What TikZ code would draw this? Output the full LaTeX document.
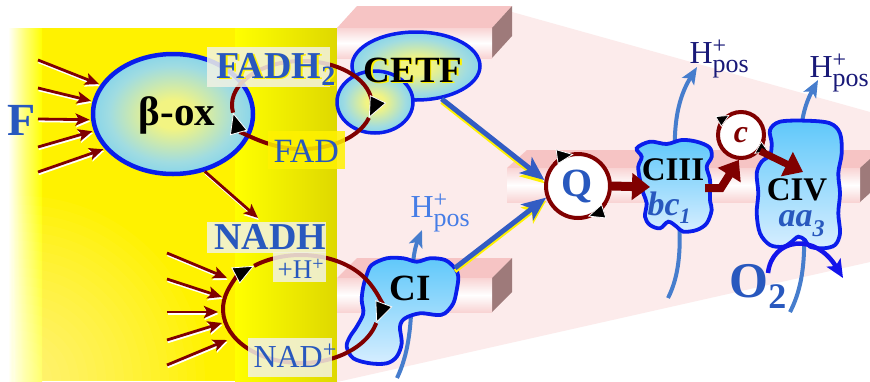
\documentclass[tikz,border=0pt]{standalone}
\usepackage{fontspec}
\setmainfont{Liberation Serif}
\usetikzlibrary{shapes.geometric,arrows.meta,calc}
\newcommand\fs[1]{\fontsize{#1}{#1}\selectfont}
\newcommand\Hpos{H\rlap{\raisebox{10pt}{\fs{24}+}}\raisebox{-9pt}{\fs{26}pos}}
\definecolor{txtblue}{RGB}{40,88,190}
\definecolor{dred}{RGB}{128,0,0}
\definecolor{eblue}{RGB}{10,30,235}
\definecolor{lblue}{RGB}{95,200,250}
\definecolor{pblue}{RGB}{215,238,255}
\definecolor{sblue}{RGB}{70,125,205}
\definecolor{navy}{RGB}{25,25,120}
\definecolor{hblue}{RGB}{70,125,230}
\definecolor{ydark}{RGB}{222,216,0}
\definecolor{pinkbg}{RGB}{252,235,235}
\definecolor{slabpink}{RGB}{246,196,196}
\definecolor{slabside}{RGB}{158,122,122}
\definecolor{slaborange}{RGB}{240,125,50}
\definecolor{boxwhite}{RGB}{242,242,228}
\definecolor{pureblue}{RGB}{20,20,235}
\definecolor{arrblue}{RGB}{50,92,195}
\definecolor{ovin}{RGB}{242,244,130}
\definecolor{ovmid}{RGB}{160,220,225}
\pgfdeclareradialshading{ovalshade}{\pgfpoint{0bp}{0bp}}{color(0bp)=(ovin); color(6bp)=(ovin); color(20bp)=(ovmid); color(34bp)=(lblue); color(50bp)=(lblue)}
\pgfdeclareverticalshading{slabfront}{100bp}{color(0bp)=(slaborange); color(6bp)=(slaborange); color(16bp)=(slabpink); color(50bp)=(white); color(84bp)=(slabpink); color(94bp)=(slaborange); color(100bp)=(slaborange)}
\newcommand\mslab[6]{%
  \fill[slabpink] (#1,#2) -- ++(#5,-#6) -- (#3+#5,#2-#6) -- (#3,#2) -- cycle;
  \fill[slabside] (#3,#2) -- (#3+#5,#2-#6) -- (#3+#5,#4-#6) -- (#3,#4) -- cycle;
  \shade[shading=slabfront] (#1,#2) rectangle (#3,#4);}
\begin{document}
\begin{tikzpicture}[x=1pt,y=-1pt,
  inarr/.style={draw=dred, line width=2.8, -{Stealth[length=14pt,width=12pt,inset=3pt]},
    preaction={draw=white, line width=2.6, transform canvas={shift={(0.6pt,-1.9pt)}}}},
  oval/.style={ellipse, draw=eblue, line width=4.5, shade, shading=ovalshade, inner sep=0},
  blob/.style={draw=eblue, line width=3.8, top color=lblue, bottom color=pblue},
  cyc/.style={draw=dred, line width=4},
  cyctip/.style={-{Triangle[length=21pt,width=18pt,fill=black,color=white,line width=0.8pt]}},
  stip/.style={-{Triangle[length=17pt,width=15pt,fill=black,color=white,line width=0.8pt]}},
  qarr/.style={draw=arrblue, line width=5, -{Stealth[length=24pt,width=20pt,inset=6pt]},
    preaction={draw=yellow, line width=4, transform canvas={shift={(0pt,-3.2pt)}}}},
  fat/.style={draw=dred, line width=9, -{Triangle[length=18pt,width=26pt]}},
  parr/.style={draw=sblue, line width=4, -{Stealth[length=17pt,width=14pt,inset=4pt]}},
  lbox/.style={fill=boxwhite, fill opacity=0.85, inner sep=0},
]
\useasboundingbox (0,0) rectangle (870,381);
% backgrounds
\fill[white] (0,0) rectangle (870,381);
\fill[yellow] (30,28) rectangle (337,381);
\shade[left color=white, right color=yellow, middle color=white!45!yellow] (8,28) rectangle (42,381);
\shade[left color=yellow, right color=ydark] (235,28) rectangle (337,381);
\begin{scope}
  \clip (8,28) rectangle (337,381);
  \foreach \r in {185,176,...,20}{\fill[white, opacity=0.03] (20,381) circle[radius=\r];}
\end{scope}
\fill[pinkbg] (337,28) -- (512,12) -- (870,112) -- (870,262) -- (337,382) -- cycle;
% membrane slabs
\mslab{337}{28}{492}{58}{20}{22}
\mslab{337}{278}{492}{312}{20}{20}
\mslab{507}{168}{860}{202}{20}{18}
% proton arrows
\coordinate (p1s) at (397,378); \coordinate (p1e) at (422,230);
\coordinate (p2s) at (668,298); \coordinate (p2e) at (697,67);
\coordinate (p3s) at (790,312); \coordinate (p3e) at (818,80);
\draw[parr] (p1s) .. controls (420,330) and (406,270) .. (p1e);
\draw[parr] (p2s) .. controls (700,235) and (652,140) .. (p2e);
\draw[parr] (p3s) .. controls (825,245) and (780,150) .. (p3e);
% beta-ox
\node[oval, minimum width=160, minimum height=120] (betaox) at (173,114) {};
\foreach \i/\y/\a in {1/60/158, 2/88/171, 3/119/184, 4/147/192, 5/172/207}{
  \coordinate (bs\i) at (38,\y);
  \draw[inarr, shorten >=1.5pt] (bs\i) -- (betaox.\a);
}
\node[anchor=base, font=\fs{46}\bfseries, text=txtblue] (F) at (22,135) {F};
\node[anchor=base, font=\fs{41}\bfseries] (betatxt) at (177,125) {β-ox};
% CETF
\node[oval, line width=3.5, minimum width=128, minimum height=68] (cetf) at (416,66) {};
\node[oval, line width=3.5, minimum width=76, minimum height=62] (cetf2) at (375,102) {};
% FAD cycle
\coordinate (fadc) at (302,105);
\draw[cyc, cyctip] ($(fadc)+(17:70 and 44)$) arc[start angle=17, end angle=170, x radius=70, y radius=44];
\draw[cyc, cyctip] ($(fadc)+(170:70 and 44)$) arc[start angle=170, end angle=377, x radius=70, y radius=44];
\node[lbox, fill=boxwhite, minimum width=123, minimum height=40] (fadh2box) at (268.5,67) {};
\node[lbox, fill=yellow, minimum width=77, minimum height=38] (fadbox) at (306.5,150) {};
\node[anchor=base west, font=\fs{38}\bfseries, text=yellow] at (214.5,79.5) {FADH\raisebox{-7pt}{\fs{28}2}};
\node[anchor=base west, font=\fs{38}\bfseries, text=txtblue] (fadh2) at (213,78) {FADH\raisebox{-7pt}{\fs{28}2}};
\node[anchor=base west, font=\fs{34}, text=txtblue] (fad) at (270,162) {FAD};
\node[anchor=base, font=\fs{37}\bfseries, text=yellow] at (414.5,83.5) {CETF};
\node[anchor=base, font=\fs{37}\bfseries] (cetft) at (413,82) {CETF};
% beta-ox to NADH
\coordinate (nadhin) at (258,218);
\draw[inarr] (betaox.-61) -- (nadhin);
% CI blob
\draw[blob] plot[smooth cycle, tension=0.55] coordinates {(371.7,265) (386.7,258.3) (403.3,258.3) (416.7,261.7) (430,258.3) (445,260) (455,268.3) (458.3,276.7) (456.7,290) (453.3,303.3) (445,313.3) (436.7,315) (420,313.3) (405,318.3) (400,326.7) (401.7,343.3) (396.7,356.7) (386.7,363.3) (370,363.3) (353.3,358.3) (346.7,346.7) (350,336.7) (356.7,326.7) (363.3,313.3) (361.7,300) (363.3,286.7) (366.7,275)};
\coordinate (ciout) at (455,268);
% NAD cycle
\coordinate (nadc) at (301,309);
\draw[cyc, cyctip] ($(nadc)+(15:78 and 54)$) arc[start angle=15, end angle=233, x radius=78, y radius=54];
\draw[cyc, cyctip] ($(nadc)+(233:78 and 54)$) arc[start angle=233, end angle=375, x radius=78, y radius=54];
\foreach \i/\ys/\xe/\ye in {1/253/227/278, 2/279/222/297, 3/312/218/312, 4/340/222/323, 5/365/227/340}{
  \coordinate (ns\i) at (167,\ys); \coordinate (ne\i) at (\xe,\ye);
  \draw[inarr] (ns\i) -- (ne\i);
}
\node[lbox, minimum width=119, minimum height=31] (nadhbox) at (266.5,237) {};
\node[lbox, minimum width=53, minimum height=30] (hbox) at (299.5,267) {};
\node[lbox, minimum width=84, minimum height=39] (nadbox) at (290,357.5) {};
\node[anchor=base west, font=\fs{38}\bfseries, text=txtblue] (nadh) at (211,249) {NADH};
\node[anchor=base west, font=\fs{27}, text=txtblue] (hplus) at (274,278) {+H\raisebox{8pt}{\fs{20}+}};
\node[anchor=base west, font=\fs{32}, text=txtblue] (nad) at (250,367) {NAD\raisebox{10pt}{\fs{24}+}};
\node[anchor=base, font=\fs{37}\bfseries] (citxt) at (410,300) {CI};
% Q
\node[circle, draw=dred, line width=4, fill=white, minimum size=64] (Q) at (578,186) {};
\draw[qarr] (cetf.-52) -- (Q.170);
\draw[qarr] (ciout) -- (Q.200);
\draw[cyc, stip] ($(Q)+(222:32)$) arc[start angle=222, end angle=262, radius=32];
\draw[cyc, stip] ($(Q)+(32:32)$) arc[start angle=32, end angle=72, radius=32];
\node[anchor=base, font=\fs{40}\bfseries, text=txtblue] (qtxt) at (577,196) {Q};
% CIII and CIV
\draw[blob] plot[smooth cycle, tension=0.55] coordinates {(636.7,148.3) (650,141.7) (666.7,144) (681.7,140) (696.7,141.7) (709.3,147.3) (711.7,156.7) (706.7,166.7) (710,180) (710,200) (711.7,210) (706.7,223.3) (696.7,230) (683.3,231.7) (676.7,226.7) (668.3,221.7) (660,228.3) (650,225) (645,216.7) (646.7,203.3) (643.3,193.3) (640,180) (638.3,166.7) (641.7,156.7)};
\draw[blob] plot[smooth cycle, tension=0.55] coordinates {(770,130) (780,121.7) (806.7,120.7) (830,123.3) (840,133.3) (841.7,153.3) (838.3,173.3) (840,193.3) (838.3,213.3) (840,233.3) (835,245) (823.3,248.3) (810,246.7) (805,240) (798.3,236.7) (791.7,241.7) (783.3,246.7) (770,245) (760,233.3) (756.7,213.3) (758.3,193.3) (756.7,173.3) (761.7,161.7) (770,155) (771.7,143.3)};
\node[circle, draw=dred, line width=4, fill=white, minimum size=46] (c) at (741,135) {};
\draw[cyc, -{Triangle[length=13pt,width=12pt,fill=black,color=white,line width=0.7pt]}] ($(c)+(195:23)$) arc[start angle=195, end angle=240, radius=23];
\draw[cyc, -{Triangle[length=13pt,width=12pt,fill=black,color=white,line width=0.7pt]}] ($(c)+(10:23)$) arc[start angle=10, end angle=55, radius=23];
\coordinate (ciiiin) at (650,187);
\coordinate (ciiiout) at (705,188);
\coordinate (civin) at (803,172);
\draw[fat] (Q.east) -- (ciiiin);
\draw[fat, line width=8] (ciiiout) -- ++(16,0) -- (c.265);
\draw[fat, line width=7] (c.-40) -- (civin);
\node[anchor=base, font=\fs{33}\bfseries] (ciiitxt) at (673,180) {CIII};
\node[anchor=base west, font=\fs{34}\bfseries\itshape, text=txtblue] (bc1) at (644,215) {bc\raisebox{-8pt}{\fs{22}1}};
\node[anchor=base, font=\fs{33}\bfseries] (civtxt) at (797,200) {CIV};
\node[anchor=base west, font=\fs{34}\bfseries\itshape, text=txtblue] (aa3) at (775,226) {aa\raisebox{-10pt}{\fs{24}3}};
\node[anchor=base, font=\fs{32}\bfseries\itshape, text=dred] (ctxt) at (741,142) {c};
% O2
\node[anchor=base west, font=\fs{50}\bfseries, text=txtblue] (o2) at (726,297) {O\raisebox{-11pt}{\fs{36}2}};
\coordinate (o2s) at (768,273); \coordinate (o2e) at (843,278);
\draw[draw=pureblue, line width=4.5, -{Stealth[length=18pt,width=16pt,inset=4pt]}] (o2s) .. controls (772,238) and (815,232) .. (o2e);
% H+ labels
\node[anchor=base west, font=\fs{32}, text=hblue] (h1) at (407,217) {\Hpos};
\node[anchor=base west, font=\fs{32}, text=navy] (h2) at (686,63) {\Hpos};
\node[anchor=base west, font=\fs{32}, text=navy] (h3) at (806,77) {\Hpos};
\end{tikzpicture}
\end{document}
